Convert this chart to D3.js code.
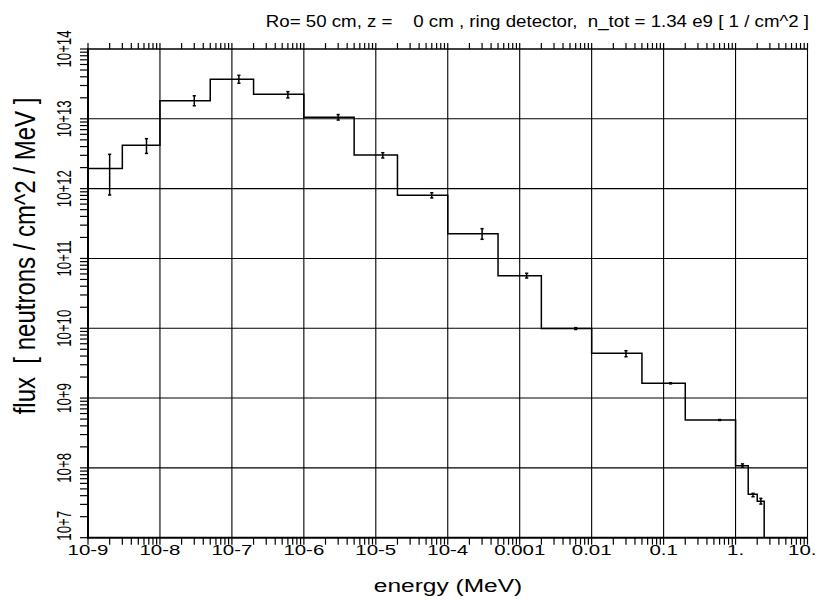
<!DOCTYPE html>
<html><head><meta charset="utf-8">
<script src="https://cdn.jsdelivr.net/npm/d3@7"></script>
<style>body{margin:0;background:#fff}svg{display:block}text{white-space:pre}</style>
</head><body><svg id="c" width="819" height="600"></svg>
<script>
// ---- data ----
const binEdges   = [1e-9, 3e-9, 1e-8, 5e-8, 2e-7, 1e-6, 5e-6, 2e-5, 1e-4, 5e-4, 2e-3, 1e-2, 5e-2, 0.2, 1, 1.5, 2, 2.5];
const fluxValues = [1.95e12, 4.18e12, 1.82e13, 3.68e13, 2.24e13, 1.05e13, 3.03e12, 8.02e11, 2.26e11, 5.66e10, 9.9e9, 4.38e9, 1.63e9, 4.85e8, 1.07e8, 4.18e7, 3.32e7];
const fluxLow    = [8.1e11, 3.2e12, 1.54e13, 3.23e13, 1.99e13, 9.6e12, 2.75e12, 7.35e11, 1.88e11, 5.25e10, 9.6e9, 3.91e9, 1.60e9, 4.78e8, 1.02e8, 3.86e7, 3.03e7];
const fluxHigh   = [3.1e12, 5.19e12, 2.14e13, 4.2e13, 2.45e13, 1.15e13, 3.27e12, 8.74e11, 2.67e11, 6.13e10, 1.02e10, 4.77e9, 1.66e9, 4.92e8, 1.14e8, 4.32e7, 3.66e7];
const xTickValues = [1e-9, 1e-8, 1e-7, 1e-6, 1e-5, 1e-4, 1e-3, 1e-2, 1e-1, 1, 10];
const xTickLabels = ["10-9", "10-8", "10-7", "10-6", "10-5", "10-4", "0.001", "0.01", "0.1", "1.", "10."];
const yTickValues = [1e7, 1e8, 1e9, 1e10, 1e11, 1e12, 1e13, 1e14];
const yTickLabels = ["10+7", "10+8", "10+9", "10+10", "10+11", "10+12", "10+13", "10+14"];
const titleText = "Ro= 50 cm, z =    0 cm , ring detector,  n_tot = 1.34 e9 [ 1 / cm^2 ]";
const xTitle = "energy (MeV)";
const yTitle = "flux  [ neutrons / cm^2 / MeV ]";

// ---- layout ----
const L = 88, R = 807.5, T = 49, B = 537.7;
const svg = d3.select("#c");
const x = d3.scaleLog().domain([1e-9, 10]).range([L, R]);
const y = d3.scaleLog().domain([1e7, 1e14]).range([B, T]);
const FONT = "'Liberation Sans', Arial, Helvetica, sans-serif";

function minorTicks(lo, hi) {
  const v = [];
  for (let d = lo; d < hi; d++) for (let k = 1; k <= 9; k++) v.push(k * Math.pow(10, d));
  v.push(Math.pow(10, hi));
  return v;
}
function line(parent, x1, y1, x2, y2, w) {
  parent.append("line").attr("x1", x1).attr("y1", y1).attr("x2", x2).attr("y2", y2)
    .attr("stroke", "#000").attr("stroke-width", w);
}

// grid
const grid = svg.append("g");
xTickValues.slice(1, -1).forEach(v => line(grid, x(v), T, x(v), B, 1.1));
yTickValues.slice(1, -1).forEach(v => line(grid, L, y(v), R, y(v), 1.1));
line(grid, R, T, R, B, 1.1);

// ticks
const tk = svg.append("g");
minorTicks(-9, 1).forEach(v => { line(tk, x(v), B, x(v), B + 7, 1.2); line(tk, x(v), T, x(v), T - 6, 1.2); });
minorTicks(7, 14).forEach(v => line(tk, L - 8, y(v), L, y(v), 1.2));
// frame lines
line(tk, L, T, L, B + 1, 2);
line(tk, L - 1, B, R, B, 2);
line(tk, L - 1, T, R, T, 1.6);

// step histogram
let path = "";
fluxValues.forEach((f, i) => {
  const x0 = x(binEdges[i]), x1 = x(binEdges[i + 1]), yy = y(f);
  path += (i === 0 ? `M${x0},${yy}` : `L${x0},${yy}`) + `L${x1},${yy}`;
});
path += `L${x(binEdges[binEdges.length - 1])},${B}`;
svg.append("path").attr("d", path).attr("fill", "none").attr("stroke", "#000").attr("stroke-width", 1.5);

// error bars at arithmetic bin centre
const eb = svg.append("g");
fluxValues.forEach((f, i) => {
  const xc = x((binEdges[i] + binEdges[i + 1]) / 2);
  const y0 = y(fluxLow[i]), y1 = y(fluxHigh[i]);
  line(eb, xc, y0, xc, y1, 1.5);
  line(eb, xc - 1.6, y0, xc + 1.6, y0, 1.5);
  line(eb, xc - 1.6, y1, xc + 1.6, y1, 1.5);
});

// stretched text helper
function stxt(px, py, str, size, sx, anchor, rot) {
  svg.append("text")
    .attr("transform", `translate(${px},${py}) scale(${sx},1)` + (rot ? " rotate(-90)" : ""))
    .attr("text-anchor", anchor).attr("font-family", FONT).attr("font-size", size)
    .attr("xml:space", "preserve")
    .attr("fill", "#000").text(str);
}
xTickValues.forEach((v, i) => {
  if (i === xTickValues.length - 1) stxt(x(v) + 9, 555, xTickLabels[i], 14, 1.46, "end", false);
  else stxt(x(v), 555, xTickLabels[i], 14, 1.46, "middle", false);
});
yTickValues.forEach((v, i) => {
  if (i === 0) stxt(71, y(v) + 3, yTickLabels[i], 13.2, 1.55, "start", true);
  else stxt(71, y(v), yTickLabels[i], 13.2, 1.55, "middle", true);
});
stxt(809, 27, titleText, 17, 1.1, "end", false);
stxt(448, 592, xTitle, 19, 1.29, "middle", false);
stxt(35, 256, yTitle, 24, 1.2, "middle", true);
</script></body></html>
